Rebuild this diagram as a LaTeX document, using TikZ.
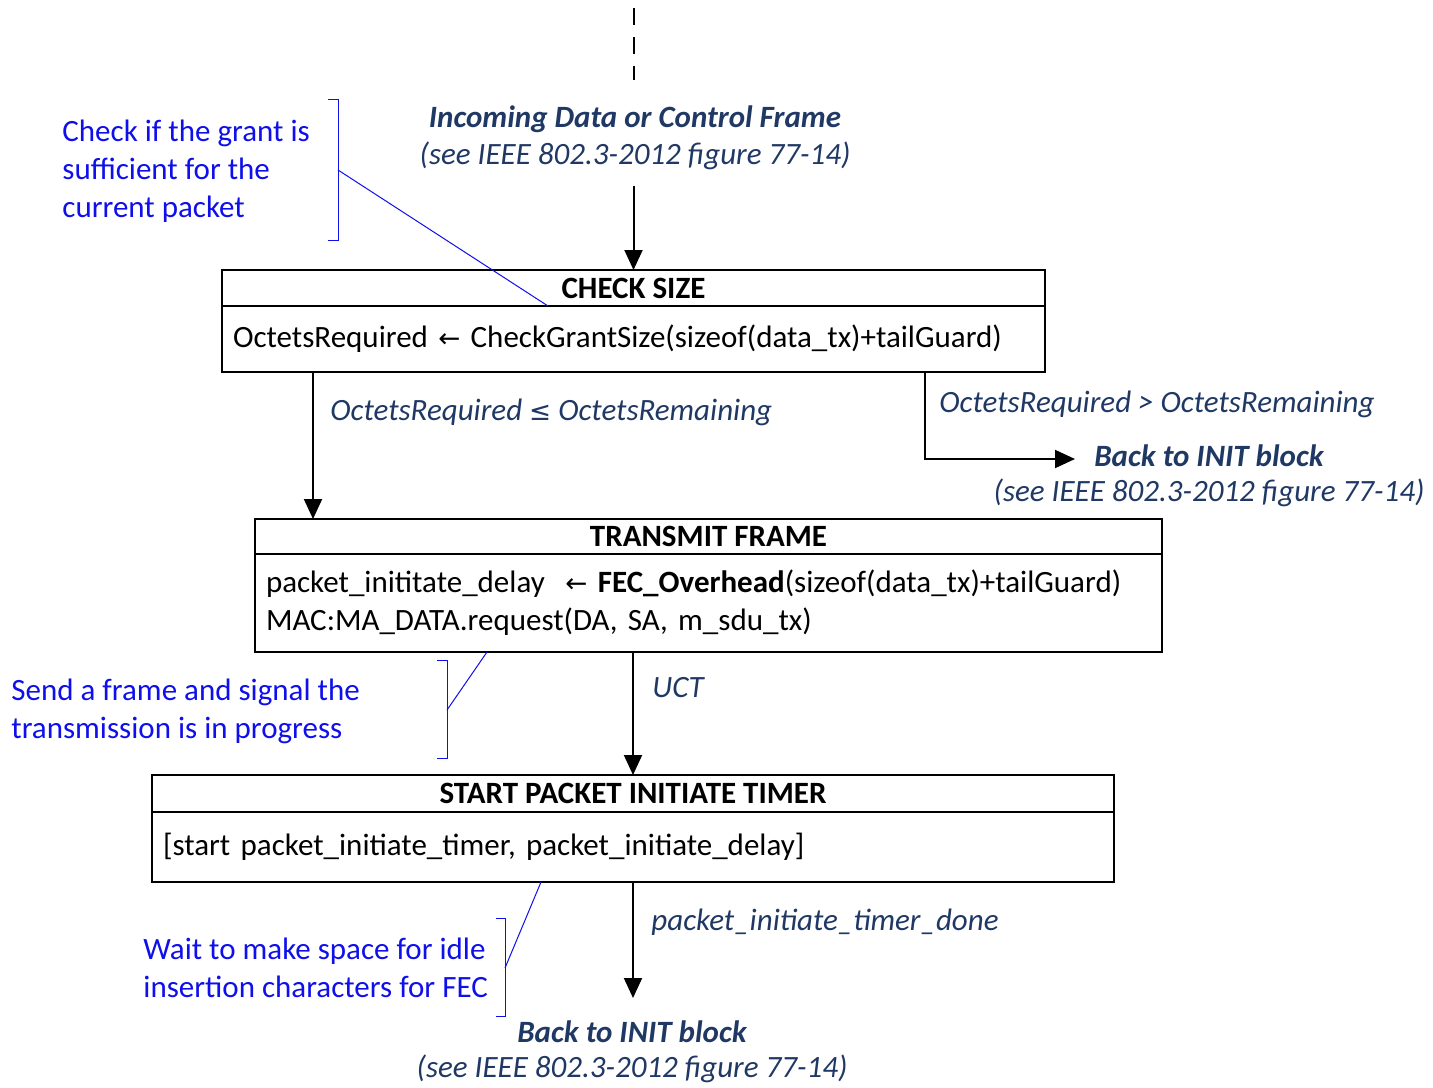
\documentclass[tikz,border=0pt]{standalone}
\usepackage{fontspec}
\setmainfont{Carlito}
\newfontfamily\symf[Scale=0.85]{DejaVu Sans}
\usetikzlibrary{arrows.meta}
\definecolor{navy}{RGB}{31,56,100}
\definecolor{anblue}{RGB}{15,15,235}
\newcommand\fs{\fontsize{15.5}{19}\selectfont\frenchspacing}
\tikzset{
    HD/.style ={rectangle, draw, line width=1pt, inner sep=0pt, outer sep=0pt, font=\fs\bfseries},
    BD/.style ={rectangle, draw, line width=1pt, anchor=north west, align=left, inner xsep=5.5pt, inner ysep=0pt, outer sep=0pt, font=\fs},
    LB/.style ={text=navy, font=\fs\itshape, inner sep=0pt},
    BK/.style ={text=navy, font=\fs\bfseries\itshape, inner sep=0pt},
    AN/.style ={text=anblue, align=left, inner sep=0pt, font=\fs},
    BR/.style ={draw=anblue, line width=0.5pt},
    AR/.style ={line width=1pt, -{Triangle[length=10pt,width=9pt]}}
}

\begin{document}
\begin{tikzpicture}[x=0.5pt,y=-0.5pt]
        \useasboundingbox (0,0) rectangle (1433,1087);
        % incoming frame
        \coordinate (D0) at (634,8);
        \coordinate (D1) at (634,80);
        \draw[line width=1pt, dash pattern=on 8.5pt off 6pt] (D0) -- (D1);
        \node[BK] (IN1) at (635,119) {Incoming Data or Control Frame};
        \node[LB] (IN2) at (635,156) {(see IEEE 802.3-2012 figure 77-14)};
        \coordinate (A0) at (634,186);
        % check size
        \node[HD, minimum width=411.5pt, minimum height=18pt] (CS1) at (633.5,288) {CHECK SIZE};
        \node[BD, text width=400.5pt, minimum height=33pt] (CS2) at (CS1.south west)
            {OctetsRequired {\symf ←} CheckGrantSize(sizeof(data\_tx)+tailGuard)\\[-3pt]};
        \draw[AR] (A0 -| CS1.north) -- (CS1.north);
        % transmit frame
        \node[HD, minimum width=453.5pt, minimum height=17.5pt] (TF1) at (708.5,536.5) {TRANSMIT FRAME};
        \node[BD, text width=442.5pt, minimum height=49pt] (TF2) at (TF1.south west)
            {packet\_inititate\_delay\ \ {\symf ←} \textbf{FEC\_Overhead}(sizeof(data\_tx)+tailGuard)\\
             MAC:MA\_DATA.request(DA, SA, m\_sdu\_tx)};
        \coordinate (L0) at (313,372);
        \draw[AR] (L0 |- CS2.south) -- (L0 |- TF1.north);
        \node[LB, anchor=west] (LE) at (330,412) {OctetsRequired {\symf ≤} OctetsRemaining};
        % back to init, right branch
        \node[LB, anchor=west] (GT) at (939,404) {OctetsRequired > OctetsRemaining};
        \node[BK] (BI1) at (1209,456) {Back to INIT block};
        \node[LB] (BI1b) at (1209,493) {(see IEEE 802.3-2012 figure 77-14)};
        \coordinate (R0) at (925,372);
        \coordinate (R1) at (1075,459);
        \draw[AR] (R0 |- CS2.south) |- (R1);
        % start packet initiate timer
        \node[HD, minimum width=481pt, minimum height=18.5pt] (ST1) at (633,793.5) {START PACKET INITIATE TIMER};
        \node[BD, text width=470pt, minimum height=35pt] (ST2) at (ST1.south west)
            {[start packet\_initiate\_timer, packet\_initiate\_delay]};
        \draw[AR] (TF2.south -| ST1.north) -- (ST1.north);
        \node[LB, anchor=west] (UC) at (652,688) {UCT};
        \coordinate (B0) at (633,998);
        \draw[AR] (ST2.south) -- (B0);
        \node[LB, anchor=west] (TD) at (651,922) {packet\_initiate\_timer\_done};
        \node[BK] (BI2) at (632,1032) {Back to INIT block};
        \node[LB] (BI2b) at (632,1069) {(see IEEE 802.3-2012 figure 77-14)};
        % comments
        \node[AN, anchor=west] (N1) at (62,171) {Check if the grant is\\sufficient for the\\current packet};
        \draw[BR] (328,99) -| (338,240) -- (328,240);
        \draw[BR] (338,170) -- (548,306);
        \node[AN, anchor=west] (N2) at (11,711) {Send a frame and signal the\\transmission is in progress};
        \draw[BR] (437,660) -| (447,758) -- (437,758);
        \draw[BR] (447,710) -- (487,652);
        \node[AN, anchor=west] (N3) at (143,968) {Wait to make space for idle\\insertion characters for FEC};
        \draw[BR] (496,918) -| (505,1016) -- (496,1016);
        \draw[BR] (505,968) -- (541,882);
    \end{tikzpicture}
\end{document}
